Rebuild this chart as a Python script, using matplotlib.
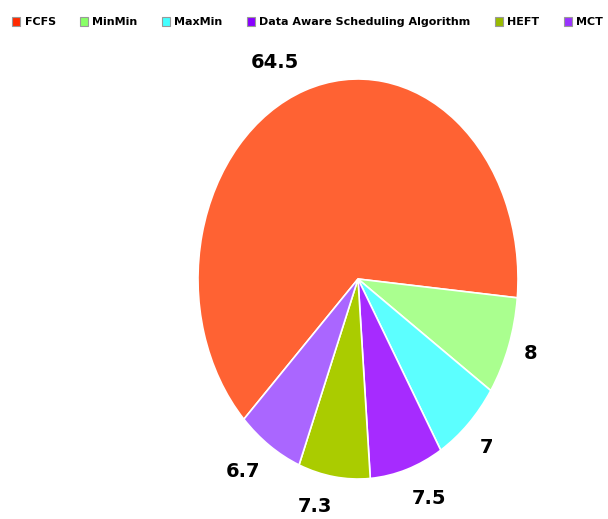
import matplotlib
matplotlib.use('Agg')
import matplotlib.pyplot as plt
from matplotlib.patches import Patch

labels = ['FCFS', 'MinMin', 'MaxMin', 'Data Aware Scheduling Algorithm', 'HEFT', 'MCT']
values = [64.5, 8, 7, 7.5, 7.3, 6.7]
value_text = ['64.5', '8', '7', '7.5', '7.3', '6.7']

pie_colors = ['#ff6233', '#aaff8f', '#5cffff', '#a62bff', '#aacc00', '#aa66ff']
legend_colors = ['#ff2a00', '#88ff66', '#44ffff', '#8800ff', '#99bb00', '#9933ff']

fig = plt.figure(figsize=(6.08, 5.19), dpi=100)
# elliptical pie: axes box is taller than wide, aspect left free
ax = fig.add_axes([198/608, 40/519, 320/608, 400/519])
wedges, texts = ax.pie(values, labels=value_text, colors=pie_colors,
                       startangle=224.5, counterclock=False,
                       labeldistance=1.1,
                       wedgeprops=dict(edgecolor='white', linewidth=1.2),
                       textprops=dict(fontsize=14, fontweight='heavy', color='black'))
for t in texts:
    x, y = t.get_position()
    t.set_ha('right' if x < 0 else 'left')
    if abs(y) < 0.5:
        t.set_va('center')
    else:
        t.set_va('top' if y < 0 else 'bottom')
ax.set_aspect('auto')
ax.set_xlim(-1, 1)
ax.set_ylim(-1, 1)

handles = [Patch(facecolor=c, edgecolor='#999999', linewidth=0.8) for c in legend_colors]
fig.legend(handles, labels, loc='center', bbox_to_anchor=(0.506, 0.958), ncol=6,
           frameon=False, prop=dict(size=8, weight='bold'),
           handlelength=0.7, handleheight=0.9, handletextpad=0.4, columnspacing=2.2)

fig.savefig('out.png', dpi=100)
